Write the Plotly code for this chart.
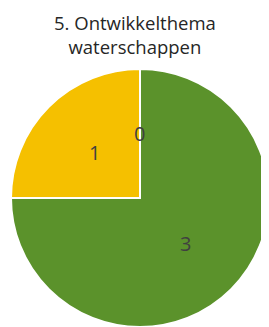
import math
import plotly.graph_objects as go

title_lines = ["5. Ontwikkelthema", "waterschappen"]
categories = ["A", "B", "C"]
values = [3, 1, 0]
colors = ["#5B922B", "#F5C000", "#4472C4"]

W, H = 269, 327
OFF = 8  # page body margin
cx, cy, r = 140 - OFF, 198 - OFF, 129

fig = go.Figure(go.Pie(
    labels=categories,
    values=values,
    sort=False,
    direction="clockwise",
    rotation=0,
    marker=dict(colors=colors, line=dict(color="white", width=2)),
    textinfo="none",
    showlegend=False,
    hoverinfo="none",
    domain=dict(x=[(cx - r) / W, (cx + r) / W], y=[(H - cy - r) / H, (H - cy + r) / H]),
))

# data labels at half radius along each slice's mid-angle (Excel style)
total = sum(values)
cum = 0
for v in values:
    mid = (cum + v / 2) / total * 2 * math.pi
    cum += v
    px = cx + 0.5 * r * math.sin(mid)
    py = cy - 0.5 * r * math.cos(mid)
    fig.add_annotation(x=px / W, y=1 - py / H, xref="paper", yref="paper",
                       text=str(v), showarrow=False, xanchor="center", yanchor="middle",
                       font=dict(family="Open Sans", size=20, color="#404040"))

# chart title
fig.add_annotation(x=127 / W, y=1 - 26 / H, xref="paper", yref="paper",
                   text="<br>".join(title_lines), showarrow=False,
                   xanchor="center", yanchor="middle", align="center",
                   font=dict(family="Open Sans", size=18.5, color="#262626"))

fig.update_layout(
    width=W, height=H,
    margin=dict(l=0, r=0, t=0, b=0),
    paper_bgcolor="white",
)

fig.write_html("out.html")
